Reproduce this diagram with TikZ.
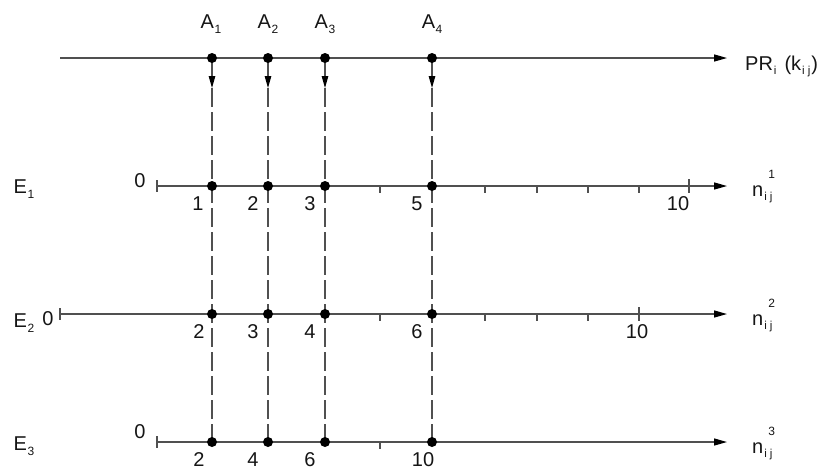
\documentclass[tikz,border=0pt]{standalone}
\usepackage{fontspec}
\setmainfont{Liberation Sans}
\usetikzlibrary{arrows.meta}
\definecolor{linegray}{HTML}{505050}
\definecolor{textgray}{HTML}{151515}
\newcommand{\sbs}[1]{\raisebox{-5pt}{\kern0.5pt\fontsize{12}{12}\selectfont #1}}
\newcommand{\nlab}[1]{n\rlap{\raisebox{18pt}{\kern5pt\fontsize{12}{12}\selectfont #1}}\raisebox{-4pt}{\kern1pt\fontsize{11.5}{11.5}\selectfont i\kern3pt j}}
\begin{document}
\begin{tikzpicture}[x=1pt,y=-1pt,
  axis/.style={draw=linegray, line width=1.3pt},
  harrow/.style={-{Triangle[length=13pt,width=7pt,black]}},
  varrow/.style={draw=linegray, line width=1.2pt, -{Triangle[length=12pt,width=6.5pt,black]}},
  dashline/.style={draw=linegray, line width=1.2pt, dash pattern=on 19pt off 5pt},
  dot/.style={circle, fill=black, inner sep=0pt, minimum size=10pt},
  lab/.style={anchor=base, inner sep=0pt, text=textgray, font=\fontsize{20}{22}\selectfont},
  tick/.style={draw=linegray, line width=1.2pt}]
\useasboundingbox (0,0) rectangle (821,469);

% axes end points
\coordinate (t0) at (60,58);   \coordinate (t1) at (727,58);
\coordinate (e10) at (157,186); \coordinate (e11) at (727,186);
\coordinate (e20) at (60,314);  \coordinate (e21) at (727,314);
\coordinate (e30) at (157,442); \coordinate (e31) at (727,442);

\draw[axis,harrow] (t0) -- (t1);
\draw[axis,harrow] (e10) -- (e11);
\draw[axis,harrow] (e20) -- (e21);
\draw[axis,harrow] (e30) -- (e31);

% ticks E1
\draw[tick] (157,180) -- (157,192);
\foreach \x in {380,485,537,588,639} \draw[tick] (\x,186) -- (\x,193);
\draw[tick] (689,179) -- (689,193);
% ticks E2
\draw[tick] (60,308) -- (60,320);
\foreach \x in {380,485,537,588} \draw[tick] (\x,314) -- (\x,321);
\draw[tick] (639,307) -- (639,321);
% ticks E3
\draw[tick] (157,436) -- (157,448);
\draw[tick] (380,442) -- (380,449);

% vertical connectors
\foreach \i/\x in {1/212,2/268,3/325,4/432}{
  \coordinate (v\i) at (\x,88);
  \coordinate (av\i) at (\x,58);
  \coordinate (rv\i) at (\x,442);
  \draw[varrow] (av\i) -- (v\i);
  \draw[dashline] (v\i) -- (rv\i);
}

% dots
\foreach \i/\x in {1/212,2/268,3/325,4/432}{
  \node[dot] (a\i) at (\x,58) {};
  \node[dot] (p\i) at (\x,186) {};
  \node[dot] (q\i) at (\x,314) {};
  \node[dot] (r\i) at (\x,442) {};
}

% top labels
\node[lab] (la1) at (211,28) {A\sbs{1}};
\node[lab] (la2) at (268,28) {A\sbs{2}};
\node[lab] (la3) at (325,28) {A\sbs{3}};
\node[lab] (la4) at (432,28) {A\sbs{4}};
\node[lab, anchor=base west] (lpr) at (745,70) {PR\raisebox{-4pt}{\kern1pt\fontsize{11.5}{11.5}\selectfont i}\hspace{8pt}(k\raisebox{-4pt}{\kern1pt\fontsize{11.5}{11.5}\selectfont i\kern3pt j}\kern1pt)};

% row labels
\node[lab] (le1) at (24,193) {E\sbs{1}};
\node[lab] (le2) at (24,327) {E\sbs{2}};
\node[lab] (le3) at (24,450) {E\sbs{3}};

\node[lab, anchor=base west] (ln1) at (752,196) {\nlab{1}};
\node[lab, anchor=base west] (ln2) at (752,325) {\nlab{2}};
\node[lab, anchor=base west] (ln3) at (752,453) {\nlab{3}};

% zeros
\node[lab] (z1) at (140,187) {0};
\node[lab] (z2) at (48,325) {0};
\node[lab] (z3) at (140,438) {0};

% E1 tick labels
\node[lab] at (198,210) {1};
\node[lab] at (253,210) {2};
\node[lab] at (310,210) {3};
\node[lab] at (417,210) {5};
\node[lab] at (678,210) {10};
% E2 tick labels
\node[lab] at (199,338) {2};
\node[lab] at (253,338) {3};
\node[lab] at (310,338) {4};
\node[lab] at (417,338) {6};
\node[lab] at (637,338) {10};
% E3 tick labels
\node[lab] at (199,466) {2};
\node[lab] at (253,466) {4};
\node[lab] at (310,466) {6};
\node[lab] at (423,466) {10};
\end{tikzpicture}
\end{document}
